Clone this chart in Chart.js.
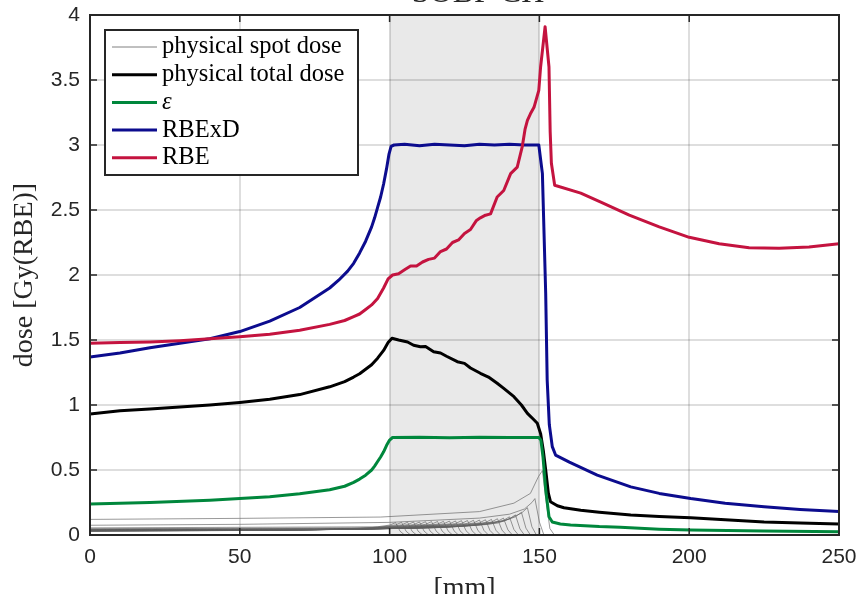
<!DOCTYPE html>
<html lang="en">
<head>
  <meta charset="UTF-8" />
  <title>SOBP CH</title>
  <script src="https://cdn.jsdelivr.net/npm/chart.js"></script>
  <style>
    body { margin: 0; background: #fff; }
  </style>
</head>
<body>
  <canvas id="doseChart" width="863" height="594"></canvas>

  <script>
    // axis ticks
    const xTicks = [0, 50, 100, 150, 200, 250];
    const yTicks = [0, 0.5, 1, 1.5, 2, 2.5, 3, 3.5, 4];
    const xTickLabels = ['0', '50', '100', '150', '200', '250'];
    const yTickLabels = ['0', '0.5', '1', '1.5', '2', '2.5', '3', '3.5', '4'];
    const sobpRange = [100, 150];

    // physical total dose
    const totalX = [0, 10, 20, 30, 40, 50, 60, 70, 80, 85, 88, 90, 92, 94, 96, 98, 99.5, 100.8, 103, 106, 108, 110.3, 112, 114.7, 117, 119, 122.6, 125, 127, 130.3, 133, 135.9, 138, 141.5, 144, 146, 148, 149.3, 150.4, 151.3, 152.1, 153, 153.7, 156, 158.2, 163.8, 170, 180.5, 190, 200.5, 212, 225, 237, 250];
    const totalY = [0.93, 0.955, 0.97, 0.985, 1.0, 1.02, 1.045, 1.08, 1.14, 1.18, 1.215, 1.24, 1.275, 1.31, 1.36, 1.42, 1.48, 1.513, 1.5, 1.485, 1.46, 1.448, 1.45, 1.41, 1.4, 1.375, 1.333, 1.32, 1.285, 1.244, 1.215, 1.167, 1.13, 1.064, 1.0, 0.936, 0.89, 0.859, 0.78, 0.65, 0.5, 0.32, 0.256, 0.225, 0.21, 0.19, 0.175, 0.154, 0.142, 0.133, 0.118, 0.1, 0.092, 0.085];

    // epsilon
    const epsX = [0, 20, 40, 50, 60, 70, 80, 85, 88, 90, 92, 94, 95, 96, 97, 98, 99, 100, 101, 110, 120, 130, 140, 149.8, 150.5, 151.2, 152.1, 153.2, 154.3, 157, 160.4, 170, 177, 190, 200.5, 225, 250];
    const epsY = [0.238, 0.25, 0.268, 0.28, 0.295, 0.318, 0.348, 0.375, 0.405, 0.43, 0.46, 0.5, 0.53, 0.565, 0.6, 0.64, 0.69, 0.73, 0.75, 0.752, 0.748, 0.752, 0.75, 0.75, 0.73, 0.6, 0.35, 0.14, 0.1, 0.085, 0.077, 0.065, 0.06, 0.045, 0.038, 0.03, 0.025];

    // RBE x D
    const rbedX = [0, 10, 20, 30, 40, 50, 60, 70, 80, 83, 86, 88, 90, 92, 94, 95, 96, 97, 98, 99, 99.8, 100.5, 101.5, 105, 110, 115, 120, 125, 130, 135, 140, 145, 149.8, 151, 152.1, 152.6, 153.3, 154.3, 155.4, 160, 169.3, 180.5, 190, 200.5, 212, 225, 237, 250];
    const rbedY = [1.37, 1.4, 1.44, 1.475, 1.51, 1.565, 1.645, 1.75, 1.9, 1.96, 2.03, 2.09, 2.17, 2.26, 2.37, 2.44, 2.52, 2.6, 2.7, 2.82, 2.93, 2.99, 3.0, 3.005, 2.995, 3.005, 3.0, 2.995, 3.005, 3.0, 3.005, 3.0, 3.0, 2.78, 1.86, 1.19, 0.85, 0.68, 0.615, 0.56, 0.46, 0.37, 0.32, 0.28, 0.245, 0.218, 0.197, 0.18];

    // RBE
    const rbeX = [0, 10, 20, 30, 40, 50, 60, 70, 80, 85, 88, 90, 92, 94, 96, 98, 99.5, 101, 103, 105, 107, 109, 111, 113, 115, 117, 119, 121, 123, 125, 127, 129, 130.3, 132, 133.7, 135.9, 138.1, 140.4, 142.6, 144.3, 145.2, 146, 147, 148.2, 149.8, 150.4, 151.9, 153.2, 153.6, 154, 155.1, 163.8, 170.5, 180, 190, 200, 210, 220, 230, 240, 250];
    const rbeY = [1.475, 1.48, 1.485, 1.495, 1.51, 1.525, 1.545, 1.575, 1.62, 1.65, 1.68, 1.7, 1.735, 1.77, 1.82, 1.9, 1.97, 2.0, 2.01, 2.04, 2.07, 2.07, 2.1, 2.12, 2.13, 2.18, 2.2, 2.25, 2.27, 2.32, 2.35, 2.42, 2.44, 2.46, 2.47, 2.6, 2.65, 2.78, 2.83, 2.99, 3.12, 3.19, 3.24, 3.29, 3.42, 3.6, 3.91, 3.6, 3.1, 2.86, 2.69, 2.63, 2.56, 2.46, 2.37, 2.29, 2.24, 2.21, 2.205, 2.215, 2.24];

    // physical spot doses, [depth, dose] per spot
    const spotDoses = [
      [[0,.030],[52,.035],[82,.044],[94,.057],[100,.076],[102,.095],[103.5,.029],[105,0],[250,0]],
      [[0,.030],[54,.035],[84,.044],[96,.057],[102,.078],[104,.097],[105.5,.029],[107,0],[250,0]],
      [[0,.031],[56,.036],[86,.045],[98,.059],[104,.078],[106,.098],[107.5,.029],[109,0],[250,0]],
      [[0,.031],[58,.036],[88,.045],[100,.059],[106,.080],[108,.100],[109.5,.030],[111,0],[250,0]],
      [[0,.032],[60,.037],[90,.046],[102,.061],[108,.080],[110,.100],[111.5,.030],[113,0],[250,0]],
      [[0,.032],[62,.037],[92,.046],[104,.061],[110,.082],[112,.102],[113.5,.031],[115,0],[250,0]],
      [[0,.033],[64,.038],[94,.048],[106,.063],[112,.082],[114,.103],[115.5,.031],[117,0],[250,0]],
      [[0,.033],[66,.038],[96,.048],[108,.063],[114,.083],[116,.104],[117.5,.031],[119,0],[250,0]],
      [[0,.034],[68,.039],[98,.049],[110,.065],[116,.084],[118,.105],[119.5,.032],[121,0],[250,0]],
      [[0,.034],[70,.039],[100,.049],[112,.065],[118,.086],[120,.107],[121.5,.032],[123,0],[250,0]],
      [[0,.035],[72,.040],[102,.051],[114,.067],[120,.086],[122,.108],[123.5,.032],[125,0],[250,0]],
      [[0,.035],[74,.040],[104,.051],[116,.067],[122,.088],[124,.110],[125.5,.033],[127,0],[250,0]],
      [[0,.036],[76,.041],[106,.052],[118,.068],[124,.089],[126,.111],[127.5,.033],[129,0],[250,0]],
      [[0,.036],[78,.041],[108,.052],[120,.068],[126,.090],[128,.113],[129.5,.034],[131,0],[250,0]],
      [[0,.037],[80,.043],[110,.054],[122,.070],[128,.092],[130,.115],[131.5,.035],[133,0],[250,0]],
      [[0,.037],[82,.043],[112,.054],[124,.070],[130,.094],[132,.117],[133.5,.035],[135,0],[250,0]],
      [[0,.038],[84,.044],[114,.055],[126,.072],[132,.096],[134,.120],[135.5,.036],[137,0],[250,0]],
      [[0,.039],[86,.045],[116,.057],[128,.074],[134,.100],[136,.125],[137.5,.038],[139,0],[250,0]],
      [[0,.040],[88,.046],[118,.058],[130,.076],[136,.104],[138,.130],[139.5,.039],[141,0],[250,0]],
      [[0,.042],[90,.048],[120,.061],[132,.080],[138,.112],[140,.140],[141.5,.042],[143,0],[250,0]],
      [[0,.045],[92,.052],[122,.065],[134,.086],[140,.124],[142,.155],[143.5,.047],[145,0],[250,0]],
      [[0,.048],[94,.055],[124,.070],[136,.091],[142,.140],[144,.175],[145.5,.053],[147,0],[250,0]],
      [[0,.055],[96,.063],[126,.080],[138,.105],[144,.168],[146,.210],[147.5,.063],[149,0],[250,0]],
      [[0,.075],[50,.082],[100,.097],[130,.130],[140,.160],[145,.200],[147.5,.250],[148.5,.280],[150,.100],[151.5,0],[250,0]],
      [[0,.120],[50,.128],[97,.138],[130,.180],[141.5,.245],[147,.320],[149.7,.450],[151,.495],[152,.300],[153.5,.050],[155,0],[250,0]]
    ];

    const legendItems = [
      { label: 'physical spot dose', color: '#808080', width: 1 },
      { label: 'physical total dose', color: '#000000', width: 3 },
      { label: 'ε', color: '#00873c', width: 3, italic: true },
      { label: 'RBExD', color: '#0c0c8e', width: 3 },
      { label: 'RBE', color: '#c4133f', width: 3 }
    ];

    const toPoints = (xs, ys) => xs.map((x, i) => ({ x: x, y: ys[i] }));

    const datasets = [];
    spotDoses.forEach(s => {
      datasets.push({
        data: s.map(p => ({ x: p[0], y: p[1] })),
        borderColor: 'rgba(95,95,95,0.8)',
        borderWidth: 0.8,
        order: 10
      });
    });
    datasets.push({ data: toPoints(totalX, totalY), borderColor: legendItems[1].color, borderWidth: 3, order: 4 });
    datasets.push({ data: toPoints(epsX, epsY), borderColor: legendItems[2].color, borderWidth: 3, order: 3 });
    datasets.push({ data: toPoints(rbedX, rbedY), borderColor: legendItems[3].color, borderWidth: 3, order: 2 });
    datasets.push({ data: toPoints(rbeX, rbeY), borderColor: legendItems[4].color, borderWidth: 3, order: 1 });
    datasets.forEach(d => {
      d.pointRadius = 0;
      d.tension = 0;
      d.fill = false;
      d.borderJoinStyle = 'round';
    });

    const axisColor = '#262626';
    const serif = '"Liberation Serif", "Times New Roman", serif';
    const sans = '"Liberation Sans", Arial, sans-serif';

    // grey SOBP band, below the grid
    const sobpBand = {
      id: 'sobpBand',
      beforeDraw(chart) {
        const { ctx, chartArea: a, scales: { x } } = chart;
        ctx.save();
        ctx.fillStyle = '#e9e9e9';
        const x0 = x.getPixelForValue(sobpRange[0]);
        const x1 = x.getPixelForValue(sobpRange[1]);
        ctx.fillRect(x0, a.top, x1 - x0, a.bottom - a.top);
        ctx.restore();
      }
    };

    // box, inward ticks, tick labels, titles and legend
    const decorations = {
      id: 'decorations',
      afterDraw(chart) {
        const { ctx, chartArea: a, scales: { x, y } } = chart;
        ctx.save();
        ctx.strokeStyle = axisColor;
        ctx.lineWidth = 1.5;
        xTicks.forEach(v => {
          const px = x.getPixelForValue(v);
          ctx.beginPath();
          ctx.moveTo(px, a.bottom); ctx.lineTo(px, a.bottom - 7);
          ctx.moveTo(px, a.top); ctx.lineTo(px, a.top + 7);
          ctx.stroke();
        });
        yTicks.forEach(v => {
          const py = y.getPixelForValue(v);
          ctx.beginPath();
          ctx.moveTo(a.left, py); ctx.lineTo(a.left + 7, py);
          ctx.moveTo(a.right, py); ctx.lineTo(a.right - 7, py);
          ctx.stroke();
        });
        ctx.lineWidth = 2;
        ctx.strokeRect(a.left, a.top, a.right - a.left, a.bottom - a.top);

        // tick labels
        ctx.fillStyle = axisColor;
        ctx.font = '21px ' + sans;
        ctx.textAlign = 'center';
        ctx.textBaseline = 'middle';
        xTicks.forEach((v, i) => ctx.fillText(xTickLabels[i], x.getPixelForValue(v), 557));
        ctx.textAlign = 'right';
        yTicks.forEach((v, i) => ctx.fillText(yTickLabels[i], 80, y.getPixelForValue(v)));

        // titles
        ctx.font = '28px ' + serif;
        ctx.textAlign = 'center';
        ctx.textBaseline = 'alphabetic';
        ctx.fillText('[mm]', (a.left + a.right) / 2, 596);
        ctx.save();
        ctx.translate(25, (a.top + a.bottom) / 2);
        ctx.rotate(-Math.PI / 2);
        ctx.textBaseline = 'middle';
        ctx.fillText('dose [Gy(RBE)]', 0, 0);
        ctx.restore();
        ctx.font = '32px ' + serif;
        ctx.fillText('SOBP CH', 478, 1.5);

        // legend
        const lx = 105, ly = 30, lw = 253, lh = 145;
        ctx.fillStyle = '#fff';
        ctx.fillRect(lx, ly, lw, lh);
        ctx.lineWidth = 2;
        ctx.strokeStyle = axisColor;
        ctx.strokeRect(lx, ly, lw, lh);
        ctx.textAlign = 'left';
        ctx.textBaseline = 'middle';
        legendItems.forEach((it, i) => {
          const cy = 47 + i * 27.7;
          ctx.strokeStyle = it.color;
          ctx.lineWidth = it.width;
          ctx.beginPath();
          ctx.moveTo(112, cy); ctx.lineTo(157, cy);
          ctx.stroke();
          ctx.fillStyle = '#000';
          ctx.font = (it.italic ? 'italic ' : '') + '24.5px ' + serif;
          ctx.fillText(it.label, 162, cy);
        });
        ctx.restore();
      }
    };

    const ctx = document.getElementById('doseChart').getContext('2d');
    new Chart(ctx, {
      type: 'line',
      data: { datasets },
      options: {
        responsive: false,
        animation: false,
        layout: { padding: { top: 15, right: 24, left: 0, bottom: 0 } },
        plugins: {
          legend: { display: false },
          tooltip: { enabled: false }
        },
        scales: {
          x: {
            type: 'linear',
            min: 0,
            max: 250,
            afterBuildTicks: s => { s.ticks = xTicks.map(v => ({ value: v })); },
            afterFit: s => { s.height = 59; },
            grid: { color: 'rgba(0,0,0,0.13)', lineWidth: 2, drawTicks: false },
            border: { display: false },
            ticks: { display: false }
          },
          y: {
            type: 'linear',
            min: 0,
            max: 4,
            afterBuildTicks: s => { s.ticks = yTicks.map(v => ({ value: v })); },
            afterFit: s => { s.width = 90; },
            grid: { color: 'rgba(0,0,0,0.13)', lineWidth: 2, drawTicks: false },
            border: { display: false },
            ticks: { display: false }
          }
        }
      },
      plugins: [sobpBand, decorations]
    });
  </script>
</body>
</html>
